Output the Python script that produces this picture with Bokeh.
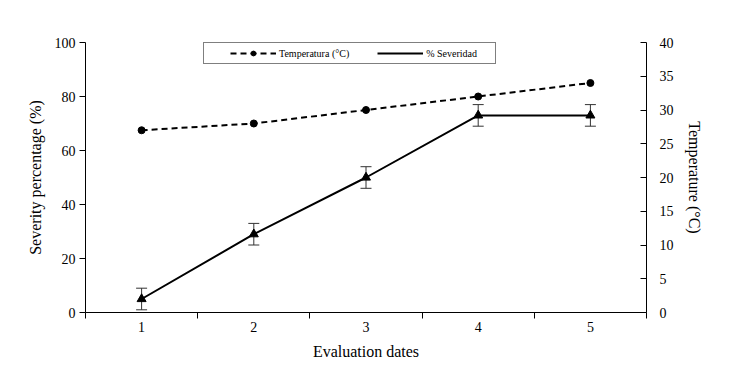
from bokeh.plotting import figure
from bokeh.models import (ColumnDataSource, Range1d, LinearAxis, FixedTicker,
                          Whisker, TeeHead, Legend, LegendItem)
from bokeh.embed import file_html
from bokeh.resources import INLINE

# ---- data ----
dates = [1, 2, 3, 4, 5]
severity = [5, 29, 50, 73, 73]
severity_err = [4, 4, 4, 4, 4]
temperature = [27, 28, 30, 32, 34]
severity_ticks = [0, 20, 40, 60, 80, 100]
temp_ticks = [0, 5, 10, 15, 20, 25, 30, 35, 40]

FONT = "Liberation Serif"

src = ColumnDataSource(dict(
    x=dates, sev=severity,
    upper=[s + e for s, e in zip(severity, severity_err)],
    lower=[s - e for s, e in zip(severity, severity_err)],
    temp=temperature,
))

p = figure(width=741, height=366, output_backend="svg", toolbar_location=None,
           x_range=Range1d(0.5, 5.5), y_range=Range1d(0, 100),
           min_border_left=85, min_border_right=95, min_border_top=42,
           min_border_bottom=54)
p.outline_line_color = None
p.grid.visible = False
p.background_fill_color = "white"
p.border_fill_color = "white"

p.extra_y_ranges = {"temp": Range1d(0, 40)}

# x axis: labels at centers, ticks at boundaries
xa = p.xaxis[0]
xa.ticker = FixedTicker(ticks=dates, minor_ticks=[d - 0.5 for d in dates] + [dates[-1] + 0.5])
xa.major_tick_line_color = None
xa.minor_tick_line_color = "black"
xa.minor_tick_out = 6
xa.minor_tick_in = 0
xa.major_label_standoff = 3
xa.axis_label = "Evaluation dates"
xa.axis_label_standoff = 8

ya = p.yaxis[0]
ya.ticker = FixedTicker(ticks=severity_ticks)
ya.major_tick_out = 6
ya.major_tick_in = 0
ya.minor_tick_line_color = None
ya.major_label_standoff = 4
ya.axis_label = "Severity percentage (%)"
ya.axis_label_standoff = 8

ra = LinearAxis(y_range_name="temp", ticker=FixedTicker(ticks=temp_ticks),
                axis_label="Temperature (°C)")
ra.major_tick_in = 6
ra.major_tick_out = 0
ra.minor_tick_line_color = None
ra.major_label_standoff = 13
ra.axis_label_standoff = 9
p.add_layout(ra, "right")

for ax in [xa, ya, ra]:
    ax.axis_line_color = "black"
    ax.axis_line_width = 1
    ax.major_label_text_font = FONT
    ax.major_label_text_font_size = "14px"
    ax.major_label_text_color = "black"
    ax.axis_label_text_font = FONT
    ax.axis_label_text_font_size = "16px"
    ax.axis_label_text_font_style = "normal"
    ax.axis_label_text_color = "black"

# severity error bars
wh = Whisker(source=src, base="x", upper="upper", lower="lower",
             line_color="#333333", line_width=1,
             upper_head=TeeHead(size=11, line_color="#333333", line_width=1),
             lower_head=TeeHead(size=11, line_color="#333333", line_width=1))
p.add_layout(wh)

# temperature (right axis)
tl = p.line("x", "temp", source=src, y_range_name="temp", line_color="black",
            line_width=2, line_dash="6 4")
tm = p.scatter("x", "temp", source=src, y_range_name="temp", marker="circle",
               size=7, fill_color="black", line_color="black")

# severity
sl = p.line("x", "sev", source=src, line_color="black", line_width=2)
sm = p.scatter("x", "sev", source=src, marker="triangle", size=9,
               fill_color="black", line_color="black")

legend = Legend(items=[LegendItem(label="Temperatura (°C)", renderers=[tl, tm]),
                       LegendItem(label="% Severidad", renderers=[sl])],
                orientation="horizontal")
legend.label_text_font = FONT
legend.label_text_font_size = "10px"
legend.label_text_color = "black"
legend.glyph_width = 46
legend.glyph_height = 12
legend.label_height = 12
legend.label_standoff = 3
legend.spacing = 28
legend.border_line_color = "black"
legend.border_line_width = 1
legend.background_fill_alpha = 1
legend.margin = 0
try:
    legend.padding = dict(left=26, right=18, top=4, bottom=4)
    legend.location = (118, 248)
except Exception:
    legend.padding = 4
    legend.location = (138, 248)
p.add_layout(legend, "center")

open("out.html", "w").write(file_html(p, INLINE))
